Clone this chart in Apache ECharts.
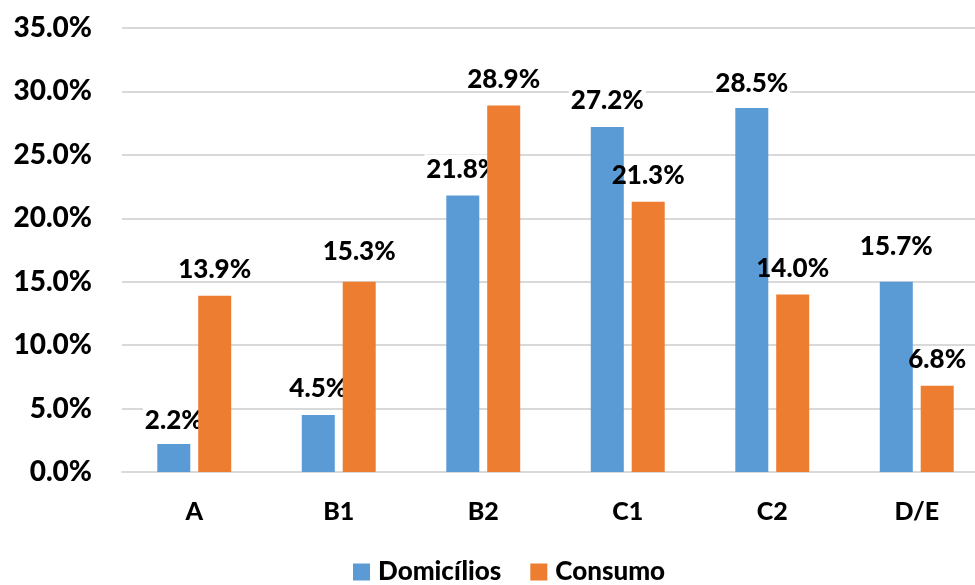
<!DOCTYPE html>
<html>
<head>
<meta charset="utf-8">
<script src="https://cdn.jsdelivr.net/npm/echarts@6/dist/echarts.min.js"></script>
<style>
html,body{margin:0;padding:0;background:#fff;overflow:hidden;}
#chart{width:975px;height:585px;}
</style>
</head>
<body>
<div id="chart"></div>
<script>
var categories = ['A', 'B1', 'B2', 'C1', 'C2', 'D/E'];
var seriesNames = ['Domicílios', 'Consumo'];
// bar heights as drawn (%)
var domicilios = [2.2, 4.5, 21.8, 27.2, 28.7, 15.0];
var consumo = [13.9, 15.0, 28.9, 21.3, 14.0, 6.8];
// data label texts as printed
var domiciliosLabels = ['2.2%', '4.5%', '21.8%', '27.2%', '28.5%', '15.7%'];
var consumoLabels = ['13.9%', '15.3%', '28.9%', '21.3%', '14.0%', '6.8%'];
var yTicks = [0, 5, 10, 15, 20, 25, 30, 35];

var FONT = 'Lato';
var chart = echarts.init(document.getElementById('chart'), null, {renderer: 'canvas'});

function buildData(values, labels, offsets) {
  return values.map(function (v, i) {
    var item = {value: v, labelText: labels[i]};
    if (offsets && offsets[i]) item.label = {offset: offsets[i]};
    return item;
  });
}

function labelStyle(bg) {
  return {
    show: true,
    position: 'top',
    distance: 11,
    fontFamily: FONT,
    fontWeight: 900,
    fontSize: 26,
    lineHeight: 30,
    color: '#000',
    backgroundColor: bg,
    padding: [0, 2],
    formatter: function (p) { return p.data.labelText; }
  };
}

var option = {
  animation: false,
  backgroundColor: '#fff',
  grid: {left: 122, top: 28, width: 867, height: 444, containLabel: false, outerBoundsMode: 'none'},
  legend: {
    data: seriesNames,
    left: 353,
    top: 557,
    padding: 0,
    itemWidth: 17,
    itemHeight: 17,
    itemGap: 29,
    icon: 'rect',
    textStyle: {fontFamily: FONT, fontWeight: 900, fontSize: 26, lineHeight: 30, color: '#000', padding: [0, 0, 0, 3]}
  },
  xAxis: {
    type: 'category',
    data: categories,
    axisLine: {show: true, lineStyle: {color: '#d9d9d9', width: 2}},
    axisTick: {show: false},
    axisLabel: {fontFamily: FONT, fontWeight: 900, fontSize: 25, lineHeight: 30, color: '#000', margin: 25}
  },
  yAxis: {
    type: 'value',
    min: yTicks[0],
    max: yTicks[yTicks.length - 1],
    interval: yTicks[1] - yTicks[0],
    axisLine: {show: false},
    axisTick: {show: false},
    splitLine: {lineStyle: {color: '#d9d9d9', width: 2}},
    axisLabel: {
      fontFamily: FONT, fontWeight: 900, fontSize: 28, color: '#000', margin: 30,
      formatter: function (v) { return v.toFixed(1) + '%'; }
    }
  },
  series: [
    {
      name: seriesNames[0],
      type: 'bar',
      z: 2,
      barWidth: 33,
      barGap: '24%',
      itemStyle: {color: '#5B9BD5'},
      label: labelStyle('#fff'),
      data: buildData(domicilios, domiciliosLabels, [[0, 3], null, null, null, [0, 2], [0, -9]])
    },
    {
      name: seriesNames[1],
      type: 'bar',
      z: 3,
      barWidth: 33,
      barGap: '24%',
      itemStyle: {color: '#ED7D31'},
      label: labelStyle('transparent'),
      data: buildData(consumo, consumoLabels, [null, [0, -4], null, null, null, null])
    }
  ]
};
chart.setOption(option);
</script>
</body>
</html>
